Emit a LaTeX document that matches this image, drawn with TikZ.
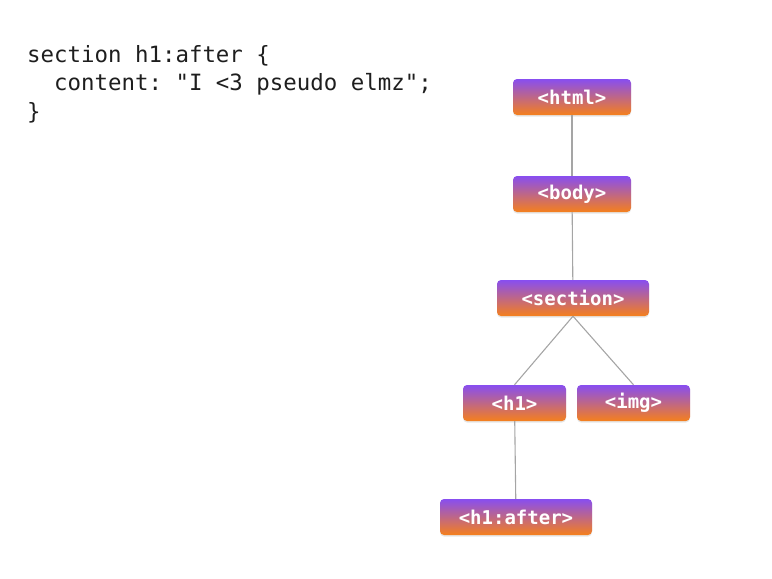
\documentclass[tikz,border=0pt]{standalone}
\usepackage{fontspec}
\setmonofont{DejaVu Sans Mono}
\usetikzlibrary{shadows}

\definecolor{tagtop}{RGB}{136,78,240}
\definecolor{tagbot}{RGB}{245,128,28}
\definecolor{edgegray}{RGB}{165,165,165}
\definecolor{codegray}{RGB}{30,30,30}

\begin{document}
\begin{tikzpicture}[x=1pt,y=-1pt]
\tikzset{font=\ttfamily}
\tikzset{tag/.style={rounded corners=4pt, top color=tagtop, bottom color=tagbot, text=white, font=\ttfamily\bfseries\fontsize{19}{19}\selectfont, minimum height=36pt, inner xsep=10pt, drop shadow={opacity=0.2, shadow xshift=0pt, shadow yshift=-1.5pt}}}
\tikzset{link/.style={draw=edgegray, line width=1.1pt}}
\useasboundingbox (0,0) rectangle (772,579);

\node[anchor=north west, inner sep=0pt, align=left, text=codegray, font=\ttfamily\fontsize{22.4}{28.5}\selectfont] (code) at (27,45) {section h1:after \{\\\ \ content: "I <3 pseudo elmz";\\\}};

\node[tag, minimum width=118pt] (html) at (572,97) {<html>};
\node[tag, minimum width=118pt] (body) at (572,194) {<body>};
\node[tag, minimum width=152pt] (section) at (573,298) {<section>};
\node[tag, minimum width=103pt] (h1) at (514.5,403) {<h1>};
\node[tag, minimum width=113pt] (img) at (633.5,403) {<img>};
\node[tag, minimum width=152pt] (after) at (516,517) {<h1:after>};

\draw[link] (html) -- (body);
\draw[link] (body) -- (section);
\draw[link] (section.south) -- (h1.north);
\draw[link] (section.south) -- (img.north);
\draw[link] (h1) -- (after);
\end{tikzpicture}
\end{document}
